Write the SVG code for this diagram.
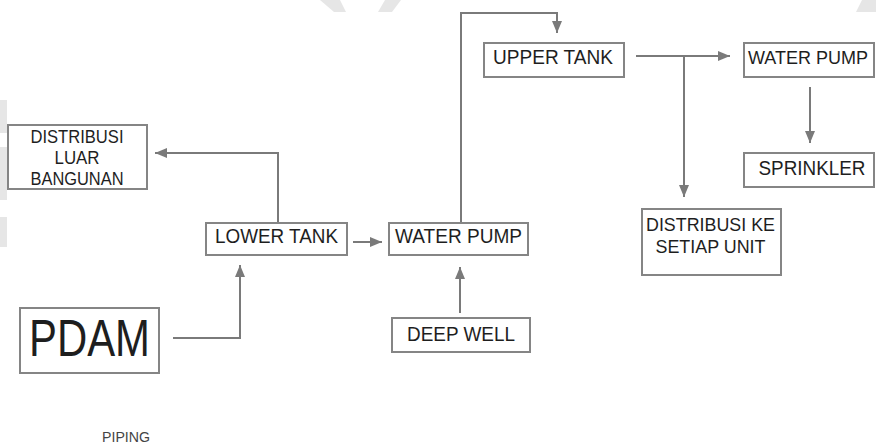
<svg xmlns="http://www.w3.org/2000/svg" width="876" height="448" viewBox="0 0 876 448">
<defs>
<style>
.box{fill:#fff;stroke:#858585;stroke-width:2}
.t{font-family:"Liberation Sans",Arial,sans-serif;fill:#1e1e1e;text-anchor:middle}
.ln{fill:none;stroke:#7a7a7a;stroke-width:2}
.wm{fill:#e6e6e6}
</style>
<marker id="ah" viewBox="0 0 12 10" refX="12" refY="5" markerWidth="12" markerHeight="10" markerUnits="userSpaceOnUse" orient="auto">
<path d="M0,0 L12,5 L0,10 z" fill="#7a7a7a"/>
</marker>
</defs>
<rect width="876" height="448" fill="#fff"/>
<g id="watermark">
<polygon class="wm" points="320,0 340,0 346,12 334,12"/>
<polygon class="wm" points="385,0 401,0 392,12 378,12"/>
<polygon class="wm" points="862,0 876,0 876,12 856,12"/>
<rect class="wm" x="0" y="100" width="7" height="33"/>
<rect class="wm" x="0" y="147" width="7" height="53"/>
<rect class="wm" x="0" y="217" width="7" height="30"/>
</g>
<g id="connectors">
<path class="ln" d="M278,222 V153 H155" marker-end="url(#ah)"/>
<path class="ln" d="M353,242 H382" marker-end="url(#ah)"/>
<path class="ln" d="M460,313 V267" marker-end="url(#ah)"/>
<path class="ln" d="M173,338 H240 V265" marker-end="url(#ah)"/>
<path class="ln" d="M461,222 V13 H557 V33" marker-end="url(#ah)"/>
<path class="ln" d="M636,56 H730" marker-end="url(#ah)"/>
<path class="ln" d="M684,56 V197" marker-end="url(#ah)"/>
<path class="ln" d="M810,87 V143" marker-end="url(#ah)"/>
</g>
<g id="distribusi-luar">
<rect class="box" x="8" y="125" width="139" height="64"/>
<text class="t" x="77" y="143" font-size="18" textLength="93" lengthAdjust="spacingAndGlyphs">DISTRIBUSI</text>
<text class="t" x="77" y="164" font-size="18" textLength="45" lengthAdjust="spacingAndGlyphs">LUAR</text>
<text class="t" x="77" y="185" font-size="18" textLength="93" lengthAdjust="spacingAndGlyphs">BANGUNAN</text>
</g>
<g id="lower-tank">
<rect class="box" x="206" y="223" width="141" height="32"/>
<text class="t" x="276.5" y="243" font-size="20" textLength="123" lengthAdjust="spacingAndGlyphs">LOWER TANK</text>
</g>
<g id="water-pump-1">
<rect class="box" x="389" y="223" width="139" height="32"/>
<text class="t" x="458.5" y="243" font-size="20" textLength="127" lengthAdjust="spacingAndGlyphs">WATER PUMP</text>
</g>
<g id="deep-well">
<rect class="box" x="392" y="318" width="138" height="34"/>
<text class="t" x="461" y="341" font-size="20" textLength="108" lengthAdjust="spacingAndGlyphs">DEEP WELL</text>
</g>
<g id="pdam">
<rect class="box" x="20" y="308" width="139" height="65"/>
<text class="t" x="89.5" y="356" font-size="51" textLength="121" lengthAdjust="spacingAndGlyphs">PDAM</text>
</g>
<g id="upper-tank">
<rect class="box" x="484" y="43" width="140" height="34"/>
<text class="t" x="553" y="64" font-size="20" textLength="120" lengthAdjust="spacingAndGlyphs">UPPER TANK</text>
</g>
<g id="water-pump-2">
<rect class="box" x="744" y="43" width="130" height="34"/>
<text class="t" x="808" y="64" font-size="18">WATER PUMP</text>
</g>
<g id="sprinkler">
<rect class="box" x="744" y="153" width="130" height="34"/>
<text class="t" x="812" y="175" font-size="20" textLength="107" lengthAdjust="spacingAndGlyphs">SPRINKLER</text>
</g>
<g id="distribusi-unit">
<rect class="box" x="642" y="209" width="139" height="66"/>
<text class="t" x="710.5" y="231" font-size="19" textLength="129" lengthAdjust="spacingAndGlyphs">DISTRIBUSI KE</text>
<text class="t" x="710.5" y="253" font-size="19" textLength="110" lengthAdjust="spacingAndGlyphs">SETIAP UNIT</text>
</g>
<text class="t" x="126" y="442" font-size="15" style="fill:#444" textLength="48" lengthAdjust="spacingAndGlyphs">PIPING</text>
</svg>
